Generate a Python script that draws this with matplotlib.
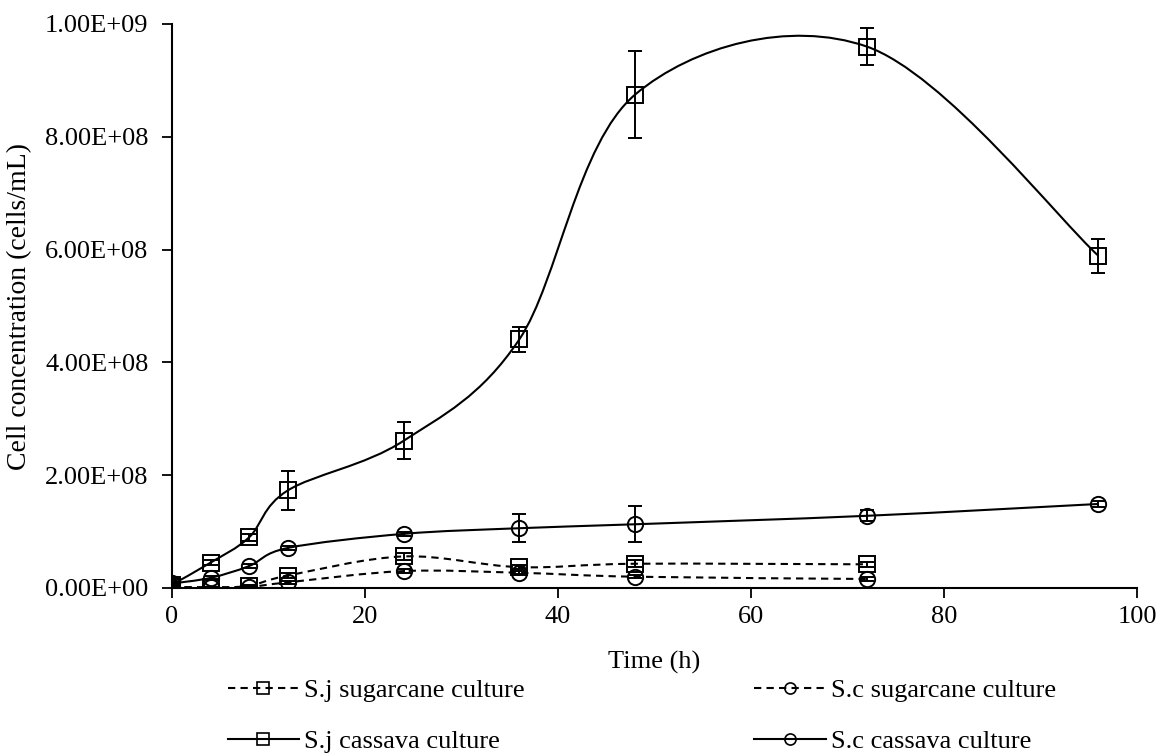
import matplotlib
matplotlib.use("Agg")
import matplotlib.pyplot as plt
import numpy as np
from matplotlib.path import Path
from matplotlib.patches import PathPatch
from matplotlib.lines import Line2D
from matplotlib.ticker import FuncFormatter

plt.rcParams['font.family'] = ['Liberation Serif', 'DejaVu Serif']

# ---- data ----
time_cassava = [0, 4, 8, 12, 24, 36, 48, 72, 96]
sj_cassava = [6e6, 4.5e7, 9.0e7, 1.73e8, 2.61e8, 4.41e8, 8.75e8, 9.60e8, 5.89e8]
sj_cassava_err = [3e6, 5e6, 6e6, 3.4e7, 3.3e7, 2.2e7, 7.8e7, 3.3e7, 3.0e7]
sc_cassava = [8e6, 1.8e7, 3.9e7, 7.1e7, 9.6e7, 1.06e8, 1.13e8, 1.28e8, 1.49e8]
sc_cassava_err = [3e6, 4e6, 4e6, 4e6, 4e6, 2.5e7, 3.2e7, 1.0e7, 6e6]

time_sugarcane = [0, 4, 8, 12, 24, 36, 48, 72]
sj_sugarcane = [2e6, 1e6, 4e6, 2.2e7, 5.6e7, 3.7e7, 4.3e7, 4.2e7]
sj_sugarcane_err = [1e6, 1e6, 2e6, 4e6, 6e6, 3e6, 6e6, 4e6]
sc_sugarcane = [2e6, 1e6, 2e6, 1.0e7, 3.0e7, 2.7e7, 2.0e7, 1.6e7]
sc_sugarcane_err = [1e6, 1e6, 1e6, 3e6, 3e6, 3e6, 3e6, 3e6]

labels = ["S.j sugarcane culture", "S.j cassava culture",
          "S.c sugarcane culture", "S.c cassava culture"]

x_ticks = [0, 20, 40, 60, 80, 100]
y_ticks = [0, 2e8, 4e8, 6e8, 8e8, 1e9]


def smooth_path(xs, ys):
    """Catmull-Rom style cubic Bezier through the points (Excel smoothed line)."""
    p = np.column_stack([xs, ys]).astype(float)
    n = len(p)
    verts = [p[0]]
    codes = [Path.MOVETO]
    for i in range(n - 1):
        p0 = p[i - 1] if i > 0 else p[i]
        p1 = p[i]
        p2 = p[i + 1]
        p3 = p[i + 2] if i + 2 < n else p[i + 1]
        c1 = p1 + (p2 - p0) / 6.0
        c2 = p2 - (p3 - p1) / 6.0
        verts += [c1, c2, p2]
        codes += [Path.CURVE4] * 3
    return Path(verts, codes)


FS = 19

fig = plt.figure(figsize=(11.69, 7.55), dpi=100)
ax = fig.add_axes([172 / 1169, 1 - 588 / 755, (1137 - 172) / 1169, (588 - 24) / 755])

dash = (0, (3.5, 2.5))
series = [
    (time_sugarcane, sj_sugarcane, sj_sugarcane_err, 's', dash),
    (time_cassava, sj_cassava, sj_cassava_err, 's', '-'),
    (time_sugarcane, sc_sugarcane, sc_sugarcane_err, 'o', dash),
    (time_cassava, sc_cassava, sc_cassava_err, 'o', '-'),
]

handles = []
for (xs, ys, es, mk, ls), lab in zip(series, labels):
    patch = PathPatch(smooth_path(xs, ys), facecolor='none', edgecolor='black',
                      lw=1.5, linestyle=ls, zorder=2)
    ax.add_patch(patch)
    ax.errorbar(xs, ys, yerr=es, fmt=mk, ms=11, mfc='none', mec='black', mew=1.4,
                ecolor='black', elinewidth=1.4, capsize=5, capthick=1.4, zorder=3)
    handles.append(Line2D([], [], color='black', lw=1.5, linestyle=ls, marker=mk,
                          ms=8, mfc='none', mec='black', mew=1.2))

ax.set_xlim(0, 100)
ax.set_ylim(0, 1e9)
ax.set_xticks(x_ticks)
ax.set_yticks(y_ticks)
ax.yaxis.set_major_formatter(FuncFormatter(lambda v, p: "{:.2E}".format(v)))
for s in ['top', 'right']:
    ax.spines[s].set_visible(False)
for s in ['left', 'bottom']:
    ax.spines[s].set_linewidth(1.5)
ax.tick_params(axis='both', direction='out', length=7, width=1.3, labelsize=FS,
               colors='black')
ax.tick_params(axis='x', pad=6)
ax.tick_params(axis='y', pad=10)
ax.set_xlabel("Time (h)", fontsize=FS)
ax.set_ylabel("Cell concentration (cells/mL)", fontsize=20)
ax.xaxis.set_label_coords(0.5, -0.111)
ax.yaxis.set_label_coords(-0.145, 0.5)

fig.legend(handles, labels, loc='upper left', bbox_to_anchor=(217 / 1169, 1 - 668 / 755),
           ncol=2, frameon=False, fontsize=FS, handlelength=2.7, handletextpad=0.2,
           columnspacing=8.7, labelspacing=1.05, borderaxespad=0)

fig.savefig("out.png", dpi=100)
